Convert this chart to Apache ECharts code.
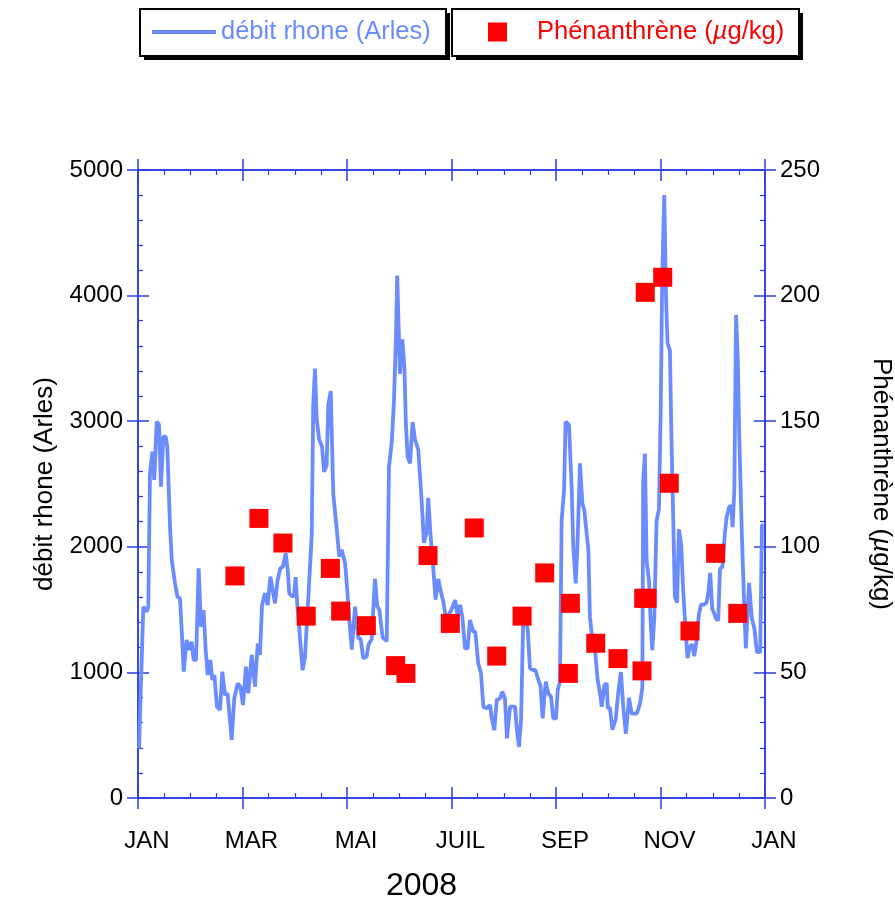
<!DOCTYPE html>
<html>
<head>
<meta charset="utf-8">
<script src="https://cdn.jsdelivr.net/npm/echarts@6/dist/echarts.min.js"></script>
<style>
    html, body { margin: 0; padding: 0; background: #ffffff; }
    #main { width: 895px; height: 899px; }
</style>
</head>
<body>
<div id="main"></div>
<script>
    // étiquettes de l'axe des temps (jour 0..366, un repère tous les 61 jours)
    const monthLabels = ['JAN', 'MAR', 'MAI', 'JUIL', 'SEP', 'NOV', 'JAN'];

    // débit du Rhône à Arles (m3/s), jour de l'année 2008
    const flowDays = [0.6, 3.1, 5.1, 6, 7, 8.4, 9.5, 10.9, 12.3, 13.4, 14.8, 16.2, 17.1, 18.7, 19.7, 21.6, 23, 24.5, 25.5, 26.7,
        28.4, 30, 31.3, 32.5, 33.9, 35.4, 36.8, 38.3, 39.5, 40.7, 42.2, 43.4, 44.6, 46.1, 47.9, 49.2, 50.8, 52.3, 54.7, 56.2,
        58.2, 59.7, 61.3, 63, 64.4, 66.4, 68.3, 69.9, 71.2, 72.4, 74.1, 75.7, 77.3, 78.8, 80, 81.5, 83.1, 84.6, 86.2, 87.4,
        88.3, 89.7, 91.1, 92, 93, 96.1, 97.5, 99.4, 101.4, 102.3, 103.3, 104.3, 105.7, 107.4, 108.6, 110.1, 111.1, 112.5, 114, 116,
        117.5, 118.9, 120.9, 122.2, 123.4, 124.8, 126.7, 128.6, 130, 131.5, 133.4, 134.6, 136.4, 138.3, 139.7, 140.9, 142.8, 145.2, 146.5, 148.1,
        149.4, 150.6, 151.3, 152.9, 154.3, 155.5, 156.4, 157.4, 158.8, 160.3, 161.7, 163.6, 165.6, 166.9, 168.5, 169.4, 170.8, 172.3, 173.7, 175.3,
        176.7, 178.2, 179.8, 180.8, 183, 185.1, 186.6, 188, 189.3, 190.9, 192.4, 193.8, 195.7, 196.9, 198.6, 200.2, 201.6, 203.5, 205.5, 206.5,
        208, 209.4, 211.3, 212.7, 214.2, 215.4, 217.2, 220.1, 221.1, 222.4, 223.6, 224.9, 226.3, 227.5, 228.8, 230.4, 232, 233.7, 235, 236.2,
        238, 239.5, 241.1, 242.4, 244, 245, 246.3, 247.3, 248.7, 249.6, 251.6, 253.2, 254.1, 255.5, 256.5, 258, 259.4, 260.5, 262.9, 263.8,
        265.2, 266.8, 268.3, 269.7, 270.7, 272.2, 273.6, 274.2, 275.5, 276.9, 278.8, 280.4, 281.9, 283.3, 284.8, 286.6, 288.2, 291.1, 293, 294.4,
        294.9, 295.9, 296.9, 298.3, 299.2, 300.2, 301.4, 302.7, 304.1, 305.1, 306, 307.2, 308.2, 309.1, 310.5, 311.4, 312.4, 313.4, 314.7, 315.7,
        317.1, 318.2, 319.7, 320.8, 322, 323.5, 324.7, 326, 327.4, 328.6, 330.3, 331.9, 332.9, 334, 335.2, 337.4, 338.7, 339.7, 341.1, 342.6,
        343.6, 345, 346.2, 347.1, 348.1, 349.1, 350.1, 351, 352.4, 353.6, 354.8, 356.7, 358.3, 359.8, 361.3, 363.2, 364.2, 365.1];
    const flowRate = [395, 1523, 1484, 1520, 2585, 2757, 2532, 2996, 2970, 2479, 2877, 2877, 2797, 2160, 1895, 1709, 1603, 1590, 1338, 1006,
        1258, 1178, 1245, 1099, 1099, 1829, 1364, 1497, 1178, 979, 1099, 940, 979, 727, 701, 1006, 820, 833, 462, 794,
        913, 886, 740, 1046, 833, 1139, 886, 1231, 1139, 1537, 1630, 1537, 1762, 1643, 1550, 1736, 1829, 1842, 1948, 1815,
        1630, 1607, 1607, 1758, 1538, 1017, 1126, 1593, 2087, 3131, 3419, 3021, 2856, 2801, 2596, 2650, 3131, 3240, 2416, 2142,
        1922, 1977, 1868, 1648, 1415, 1181, 1524, 1277, 1263, 1111, 1126, 1222, 1263, 1744, 1524, 1497, 1277, 1249, 2636, 2828,
        3158, 3679, 4160, 3377, 3652, 3432, 2966, 2718, 2664, 2993, 2856, 2773, 2362, 2032, 2114, 2389, 2087, 1840, 1579, 1744,
        1648, 1565, 1428, 1444, 1500, 1576, 1444, 1537, 1444, 1192, 1192, 1417, 1324, 1324, 1072, 993, 727, 714, 740, 634,
        541, 780, 793, 846, 793, 475, 727, 727, 555, 408, 621, 1444, 1444, 1338, 1033, 1019, 1019, 940, 890, 634,
        926, 833, 806, 634, 634, 860, 926, 2213, 2452, 2996, 2970, 2452, 2000, 1709, 2000, 2664, 2345, 2293, 1975, 1444,
        1258, 1178, 940, 833, 727, 900, 913, 718, 718, 544, 623, 845, 1003, 718, 512, 797, 671, 671, 750, 877,
        2520, 2741, 1887, 1729, 1413, 1177, 1441, 2207, 2302, 3061, 4135, 4800, 4005, 3625, 3562, 2866, 2235, 1603, 1555, 2140,
        2014, 1666, 1318, 1113, 1200, 1224, 1129, 1250, 1461, 1540, 1540, 1555, 1633, 1792, 1508, 1429, 1413, 1824, 1840, 2107,
        2235, 2314, 2330, 2156, 2456, 3846, 3498, 2867, 2140, 1633, 1192, 1713, 1429, 1350, 1161, 1161, 2172, 2172];

    // phénanthrène (µg/kg), jour du prélèvement
    const phenDays = [56.6, 70.6, 84.6, 98.2, 112.3, 118.3, 133.3, 150.4, 156.4, 169.3, 182.3, 196.3, 209.4, 224.2,
        237.4, 251.2, 252.4, 267.2, 280.2, 294.2, 295.2, 297.2, 296.1, 306.3, 310.1, 322.2, 337.2, 350.1];
    const phenValues = [88.4, 111.3, 101.5, 72.4, 91.4, 74.4, 68.6, 52.7, 49.6, 96.5, 69.5, 107.5, 56.5, 72.4,
        89.6, 49.6, 77.5, 61.6, 55.5, 50.6, 79.5, 79.5, 201.3, 207.3, 125.3, 66.5, 97.4, 73.5];

    const flowName = 'débit rhone (Arles)';
    const phenName = 'Phénanthrène (µg/kg)';
    const axisBlue = '#2a3ce8';
    const lineBlue = '#6b8cff';
    const font = '"Liberation Sans", Arial, Helvetica, sans-serif';

    //axe X : un avec repères extérieurs, un avec repères intérieurs
    function xAxisDef(position, inside, withLabels) {
        return {
            type: 'value', position: position, min: 0, max: 366, interval: 61,
            axisLine: {show: true, onZero: false, lineStyle: {color: axisBlue, width: 1.5}},
            axisTick: {show: true, inside: inside, length: 11, lineStyle: {color: axisBlue, width: 1.5}},
            minorTick: {show: inside, splitNumber: 4, length: 5, lineStyle: {color: axisBlue, width: 1.2}},
            splitLine: {show: false},
            axisLabel: {
                show: withLabels, color: '#000', fontSize: 24, fontFamily: font, margin: 31,
                padding: [0, 0, 0, 18],
                showMinLabel: true, showMaxLabel: true,
                formatter: function (v) { return monthLabels[Math.round(v / 61)]; }
            }
        };
    }

    function yAxisDef(position, max, interval, inside, withLabels) {
        return {
            type: 'value', position: position, min: 0, max: max, interval: interval,
            axisLine: {show: true, onZero: false, lineStyle: {color: axisBlue, width: 1.5}},
            axisTick: {show: true, inside: inside, length: 11, lineStyle: {color: axisBlue, width: 1.5}},
            minorTick: {show: inside, splitNumber: 5, length: 5, lineStyle: {color: axisBlue, width: 1.2}},
            splitLine: {show: false},
            axisLabel: {
                show: withLabels, color: '#000', fontSize: 24, fontFamily: font, margin: 15,
                formatter: function (v) { return String(v); }
            }
        };
    }

    const xBottom = xAxisDef('bottom', false, true);
    xBottom.name = '2008';
    xBottom.nameLocation = 'middle';
    xBottom.nameGap = 72;
    xBottom.nameTextStyle = {color: '#000', fontSize: 32, fontFamily: font, padding: [0, 60, 0, 0]};

    const yLeft = yAxisDef('left', 5000, 1000, false, true);
    yLeft.name = flowName;
    yLeft.nameLocation = 'middle';
    yLeft.nameRotate = 90;
    yLeft.nameGap = 80;
    yLeft.nameTextStyle = {color: '#000', fontSize: 26, fontFamily: font};

    const yRight = yAxisDef('right', 250, 50, false, true);
    yRight.name = 'Phénanthrène ({i|µ}g/kg)';
    yRight.nameLocation = 'middle';
    yRight.nameRotate = -90;
    yRight.nameGap = 103;
    yRight.nameTextStyle = {
        color: '#000', fontSize: 26, fontFamily: font,
        rich: {i: {fontStyle: 'italic', color: '#000', fontSize: 26, fontFamily: font}}
    };

    // cadres de la légende avec ombre portée
    function legendFrame(x, w) {
        return [
            {type: 'rect', shape: {x: x + 4, y: 13, width: w, height: 47}, style: {fill: '#000'}, z: 0},
            {type: 'rect', shape: {x: x, y: 9, width: w, height: 47}, style: {fill: '#fff', stroke: '#000', lineWidth: 2}, z: 1}
        ];
    }

    const chart = echarts.init(document.getElementById('main'));
    chart.setOption({
        animation: false,
        backgroundColor: '#ffffff',
        textStyle: {fontFamily: font},
        grid: {left: 138, right: 130, top: 170, bottom: 101, outerBoundsMode: 'none', containLabel: false},
        graphic: legendFrame(140, 306).concat(legendFrame(452, 347)),
        legend: [
            {
                left: 152, top: 19, selectedMode: false, padding: 0,
                data: [{name: flowName, icon: 'rect'}],
                itemWidth: 64, itemHeight: 4,
                textStyle: {color: lineBlue, fontSize: 25.5, fontFamily: font}
            },
            {
                left: 488, top: 19, selectedMode: false, padding: 0,
                data: [{name: phenName, icon: 'rect'}],
                itemWidth: 19, itemHeight: 19,
                formatter: function () { return '{sp| }Phénanthrène ({i|µ}g/kg)'; },
                textStyle: {
                    color: '#ff0000', fontSize: 25.5, fontFamily: font,
                    rich: {
                        sp: {width: 25},
                        i: {fontStyle: 'italic', color: '#ff0000', fontSize: 25.5, fontFamily: font}
                    }
                }
            }
        ],
        xAxis: [xBottom, xAxisDef('bottom', true, false), xAxisDef('top', false, false), xAxisDef('top', true, false)],
        yAxis: [yLeft, yAxisDef('left', 5000, 1000, true, false), yRight, yAxisDef('right', 250, 50, true, false)],
        series: [
            {
                name: flowName, type: 'line', xAxisIndex: 0, yAxisIndex: 0,
                data: flowDays.map((d, i) => [d, flowRate[i]]),
                showSymbol: false, symbol: 'none',
                lineStyle: {color: lineBlue, width: 3.8},
                itemStyle: {color: lineBlue},
                z: 2
            },
            {
                name: phenName, type: 'scatter', xAxisIndex: 0, yAxisIndex: 2,
                data: phenDays.map((d, i) => [d, phenValues[i]]),
                symbol: 'rect', symbolSize: 19,
                itemStyle: {color: '#ff0000', opacity: 1},
                z: 3
            }
        ]
    });
</script>
</body>
</html>
